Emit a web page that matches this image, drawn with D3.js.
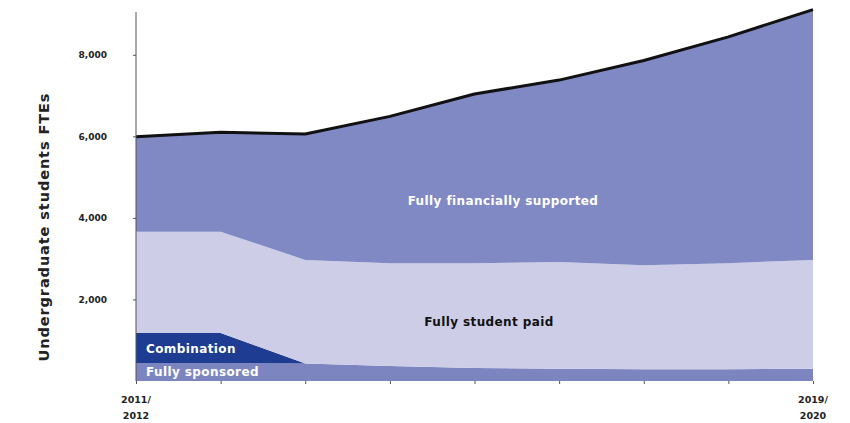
<!DOCTYPE html>
<html>
<head>
<meta charset="utf-8">
<script src="https://cdn.jsdelivr.net/npm/d3@7"></script>
<style>
  html, body { margin: 0; padding: 0; background: #fff; }
  svg { display: block; }
  text { font-family: "DejaVu Sans", sans-serif; }
</style>
</head>
<body>
<svg id="chart" width="850" height="423"></svg>
<script>
// ---- data ----
const years = ["2011/2012", "2012/2013", "2013/2014", "2014/2015", "2015/2016", "2016/2017", "2017/2018", "2018/2019", "2019/2020"];
const fullySponsored = [440, 440, 430, 370, 320, 300, 290, 290, 300];
const combination = [740, 740, 0, 0, 0, 0, 0, 0, 0];
const fullyStudentPaid = [2480, 2480, 2540, 2520, 2570, 2620, 2550, 2600, 2670];
const fullyFinanciallySupported = [2330, 2440, 3090, 3600, 4150, 4460, 5020, 5550, 6140];
const yTicks = [2000, 4000, 6000, 8000];
const seriesNames = ["Fully sponsored", "Combination", "Fully student paid", "Fully financially supported"];

// ---- build table ----
const table = years.map((y, i) => ({
  year: y,
  "Fully sponsored": fullySponsored[i],
  "Combination": combination[i],
  "Fully student paid": fullyStudentPaid[i],
  "Fully financially supported": fullyFinanciallySupported[i]
}));

const colors = {
  "Fully sponsored": "#7d85c0",
  "Combination": "#1e3c91",
  "Fully student paid": "#cdcde8",
  "Fully financially supported": "#8089c4"
};

const svg = d3.select("#chart");
const x = d3.scalePoint().domain(years).range([136, 813]);
const y = d3.scaleLinear().domain([0, 9050]).range([381, 12]);

const stack = d3.stack().keys(seriesNames);
const layers = stack(table);

const area = d3.area()
  .x(d => x(d.data.year))
  .y0(d => y(d[0]))
  .y1(d => y(d[1]));

svg.append("g").selectAll("path")
  .data(layers)
  .join("path")
  .attr("d", area)
  .attr("fill", d => colors[d.key]);

// total line
const topLayer = layers[layers.length - 1];
const line = d3.line()
  .x(d => x(d.data.year))
  .y(d => y(d[1]));
svg.append("path")
  .datum(topLayer)
  .attr("d", line)
  .attr("fill", "none")
  .attr("stroke", "#111")
  .attr("stroke-width", 3)
  .attr("stroke-linejoin", "round");

// y axis
const yAxis = d3.axisLeft(y).tickValues(yTicks).tickSize(3).tickPadding(26)
  .tickFormat(d3.format(","));
const gy = svg.append("g").attr("transform", "translate(136,0)").call(yAxis);
gy.select(".domain").attr("stroke", "#555").attr("d", `M0,${y(0)}V12`);
gy.selectAll(".tick line").attr("stroke", "#555");
gy.selectAll(".tick text")
  .attr("font-family", "DejaVu Sans")
  .attr("font-weight", "bold")
  .attr("font-size", 9)
  .attr("fill", "#222");

// x axis ticks
const gx = svg.append("g").attr("transform", `translate(0,${y(0)})`)
  .call(d3.axisBottom(x).tickSize(3).tickFormat(""));
gx.select(".domain").remove();
gx.selectAll(".tick line").attr("stroke", "#555");

// x labels (first and last only)
[years[0], years[years.length - 1]].forEach(yr => {
  const parts = yr.split("/");
  const t = svg.append("text")
    .attr("x", x(yr))
    .attr("text-anchor", "middle")
    .attr("font-weight", "bold")
    .attr("font-size", 9.5)
    .attr("fill", "#222");
  t.append("tspan").attr("x", x(yr)).attr("y", 403).text(parts[0] + "/");
  t.append("tspan").attr("x", x(yr)).attr("y", 419).text(parts[1]);
});

// y axis title
svg.append("text")
  .attr("transform", "translate(49,227) rotate(-90)")
  .attr("text-anchor", "middle")
  .attr("font-weight", "bold")
  .attr("font-size", 14.5)
  .attr("letter-spacing", 0.9)
  .attr("fill", "#222")
  .text("Undergraduate students FTEs");

// series labels
function label(txt, xx, yy, anchor, fill) {
  svg.append("text")
    .attr("x", xx).attr("y", yy)
    .attr("text-anchor", anchor)
    .attr("font-weight", "bold").attr("font-size", 12)
    .attr("letter-spacing", 0.4)
    .attr("fill", fill)
    .text(txt);
}
label("Fully financially supported", 503, 205, "middle", "#fff");
label("Fully student paid", 489, 326, "middle", "#111");
label("Combination", 146, 353, "start", "#fff");
label("Fully sponsored", 146, 376, "start", "#fff");
</script>
</body>
</html>
